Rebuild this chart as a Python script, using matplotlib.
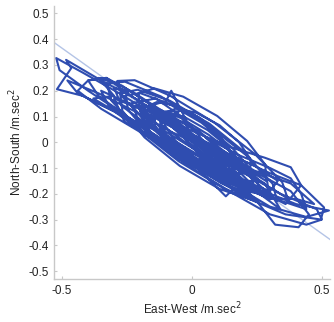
import matplotlib
matplotlib.use("Agg")
import matplotlib.pyplot as plt

plt.rcParams['font.family'] = ['Liberation Sans', 'DejaVu Sans']

# Trajectory (East-West, North-South), loop by loop
ew = [
    0.02, -0.12, -0.28, -0.42, -0.523, -0.51, -0.40, -0.25, -0.10, 0.08, 0.25, 0.40, 0.527, 0.44, 0.30, 0.15, 0.03,
    0.184, 0.182, 0.137, 0.060, -0.027, -0.102, -0.144, -0.142, -0.097, -0.020, 0.067, 0.142,
    -0.05, -0.20, -0.35, -0.485, -0.465, -0.52, -0.42, -0.28, -0.12, 0.05, 0.22, 0.36, 0.496, 0.508, 0.42, 0.30, 0.15, 0.00,
    0.286, 0.282, 0.212, 0.097, -0.034, -0.144, -0.206, -0.202, -0.132, -0.017, 0.114, 0.224,
    0.236, 0.226, 0.152, 0.036, -0.094, -0.200, -0.256, -0.246, -0.172, -0.056, 0.074, 0.180,
    -0.08, -0.22, -0.33, -0.40, -0.36, -0.25, -0.10, 0.05, 0.20, 0.35, 0.44, 0.42, 0.38, 0.30, 0.18, 0.05,
    0.328, 0.310, 0.208, 0.051, -0.120, -0.258, -0.328, -0.310, -0.208, -0.051, 0.120, 0.258,
    -0.05, -0.15, -0.20, -0.12, 0.00, 0.12, 0.20, 0.15, 0.05,
    0.368, 0.347, 0.243, 0.086, -0.085, -0.221, -0.288, -0.267, -0.163, -0.006, 0.165, 0.301,
    0.235, 0.225, 0.163, 0.064, -0.043, -0.131, -0.175, -0.165, -0.103, -0.004, 0.103, 0.191,
    -0.02, -0.08, -0.10, -0.20, -0.30, -0.26, -0.14, 0.00, 0.13, 0.16, 0.26, 0.34, 0.28, 0.15, 0.05,
    0.123, 0.121, 0.087, 0.029, -0.037, -0.093, -0.123, -0.121, -0.087, -0.029, 0.037, 0.093,
    -0.10, -0.22, -0.33, -0.40, -0.44, -0.35, -0.20, -0.05, 0.10, 0.25, 0.32, 0.41, 0.45, 0.38, 0.25, 0.10,
    0.224, 0.225, 0.181, 0.106, 0.017, -0.059, -0.104, -0.105, -0.061, 0.014, 0.103, 0.179,
    0.297, 0.288, 0.203, 0.067, -0.085, -0.210, -0.277, -0.268, -0.183, -0.047, 0.105, 0.230,
    0.02, -0.08, -0.16, -0.10, 0.00, 0.10, 0.14, 0.06,
    0.144, 0.148, 0.106, 0.031, -0.058, -0.136, -0.184, -0.188, -0.146, -0.071, 0.018, 0.096,
    -0.15, -0.27, -0.36, -0.30, -0.38, -0.28, -0.15, 0.00, 0.15, 0.30, 0.40, 0.47, 0.38, 0.24, 0.10,
    0.266, 0.250, 0.173, 0.054, -0.073, -0.176, -0.226, -0.210, -0.133, -0.014, 0.113, 0.216,
    -0.02, -0.12, -0.24, -0.30, -0.27, -0.16, -0.04, 0.08, 0.20, 0.30, 0.33, 0.24, 0.12, 0.00,
    0.05, -0.10, -0.22, -0.35, -0.32, -0.20, -0.06, 0.10, 0.24, 0.36, 0.42, 0.38, 0.28, 0.15,
    -0.06, -0.18, -0.10, 0.03, 0.16, 0.22, 0.12, 0.00,
    -0.04, -0.14, -0.24, -0.18, -0.06, 0.06, 0.18, 0.26, 0.20, 0.08,
    -0.08, -0.22, -0.36, -0.48, -0.44, -0.30, -0.16, 0.00, 0.16, 0.30, 0.44, 0.50, 0.48, 0.34, 0.20, 0.06,
    -0.02, -0.10, -0.05, -0.12, 0.00, 0.08, 0.18, 0.10, 0.02,
]
ns = [
    -0.01, 0.09, 0.19, 0.27, 0.327, 0.28, 0.20, 0.10, 0.00, -0.10, -0.18, -0.24, -0.265, -0.29, -0.25, -0.16, -0.06,
    -0.124, -0.080, -0.017, 0.047, 0.097, 0.118, 0.104, 0.060, -0.003, -0.067, -0.117, -0.138,
    0.05, 0.16, 0.24, 0.32, 0.288, 0.206, 0.18, 0.11, -0.01, -0.12, -0.22, -0.28, -0.30, -0.253, -0.167, -0.12, -0.05, 0.03,
    -0.151, -0.087, 0.005, 0.102, 0.177, 0.209, 0.191, 0.127, 0.035, -0.062, -0.137, -0.169,
    -0.161, -0.105, -0.019, 0.076, 0.152, 0.191, 0.181, 0.125, 0.039, -0.056, -0.132, -0.171,
    0.10, 0.19, 0.25, 0.24, 0.18, 0.10, 0.00, -0.09, -0.17, -0.23, -0.26, -0.20, -0.14, -0.10, -0.05, 0.02,
    -0.228, -0.161, -0.050, 0.074, 0.178, 0.235, 0.228, 0.161, 0.050, -0.074, -0.178, -0.235,
    0.06, 0.13, 0.12, 0.04, -0.05, -0.13, -0.16, -0.09, -0.02,
    -0.218, -0.155, -0.047, 0.076, 0.181, 0.241, 0.238, 0.175, 0.067, -0.056, -0.161, -0.221,
    -0.163, -0.119, -0.048, 0.029, 0.094, 0.129, 0.123, 0.079, 0.008, -0.069, -0.134, -0.169,
    0.08, 0.20, 0.16, 0.13, 0.17, 0.08, 0.01, -0.08, -0.21, -0.18, -0.20, -0.26, -0.16, -0.08, -0.01,
    -0.086, -0.053, -0.007, 0.041, 0.079, 0.095, 0.086, 0.053, 0.007, -0.041, -0.079, -0.095,
    0.08, 0.17, 0.25, 0.24, 0.20, 0.13, 0.04, -0.05, -0.14, -0.23, -0.32, -0.33, -0.28, -0.19, -0.12, -0.04,
    -0.114, -0.066, 0.000, 0.066, 0.114, 0.132, 0.114, 0.066, 0.000, -0.066, -0.114, -0.132,
    -0.210, -0.142, -0.039, 0.072, 0.161, 0.204, 0.190, 0.122, 0.019, -0.092, -0.181, -0.224,
    0.02, 0.09, 0.10, 0.03, -0.04, -0.10, -0.07, -0.01,
    -0.094, -0.042, 0.027, 0.094, 0.141, 0.156, 0.134, 0.082, 0.013, -0.054, -0.101, -0.116,
    0.14, 0.22, 0.25, 0.18, 0.17, 0.11, 0.05, -0.06, -0.15, -0.22, -0.22, -0.24, -0.16, -0.11, -0.03,
    -0.201, -0.153, -0.073, 0.019, 0.099, 0.143, 0.141, 0.093, 0.013, -0.079, -0.159, -0.203,
    0.04, 0.12, 0.20, 0.21, 0.14, 0.06, -0.02, -0.08, -0.15, -0.19, -0.15, -0.09, -0.04, 0.03,
    0.00, 0.07, 0.14, 0.20, 0.14, 0.06, -0.03, -0.11, -0.18, -0.24, -0.167, -0.097, -0.06, -0.02,
    0.07, 0.11, 0.04, -0.04, -0.12, -0.12, -0.05, 0.02,
    0.10, 0.17, 0.15, 0.08, 0.00, -0.07, -0.15, -0.15, -0.09, -0.03,
    0.04, 0.12, 0.19, 0.24, 0.19, 0.12, 0.02, -0.10, -0.20, -0.28, -0.32, -0.30, -0.26, -0.20, -0.12, -0.04,
    0.05, 0.12, 0.12, 0.07, -0.02, -0.09, -0.13, -0.06, 0.00,
]

# Fitted trend line
fit_slope = -0.72
fit_intercept = 0.005
fit_x = [-0.55, 0.55]

x_ticks = [-0.5, 0, 0.5]
x_labels = ['-0.5', '0', '0.5']
y_ticks = [0.5, 0.4, 0.3, 0.2, 0.1, 0, -0.1, -0.2, -0.3, -0.4, -0.5]
y_labels = ['0.5', '0.4', '0.3', '0.2', '0.1', '0', '-0.1', '-0.2', '-0.3', '-0.4', '-0.5']

fig = plt.figure(figsize=(3.34, 3.22), dpi=100)
ax = fig.add_axes([0.162, 0.1335, 0.826, 0.8494])

fit_y = [fit_slope * v + fit_intercept for v in fit_x]
ax.plot(fit_x, fit_y, color='#b4c4e6', lw=1.0, zorder=1)
ax.plot(ew, ns, color='#2f4db0', lw=1.5, zorder=2)

ax.set_xlim(-0.531, 0.531)
ax.set_ylim(-0.531, 0.531)
ax.set_xticks(x_ticks)
ax.set_xticklabels(x_labels)
ax.set_yticks(y_ticks)
ax.set_yticklabels(y_labels)

for s in ['top', 'right']:
    ax.spines[s].set_visible(False)
for s in ['left', 'bottom']:
    ax.spines[s].set_color('#c8c8c8')
    ax.spines[s].set_linewidth(1.0)
ax.tick_params(direction='in', length=2.5, color='#c8c8c8', labelsize=8.5,
               labelcolor='#222222', pad=4)

ax.set_xlabel('East-West /m.sec$^2$', fontsize=8.5, color='#222222', labelpad=3)
ax.set_ylabel('North-South /m.sec$^2$', fontsize=8.5, color='#222222', labelpad=3)

fig.savefig('out.png', dpi=100)
